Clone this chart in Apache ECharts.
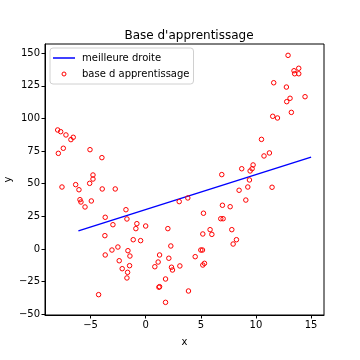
<!DOCTYPE html>
<html>
<head>
<meta charset="utf-8">
<script src="https://cdn.jsdelivr.net/npm/echarts@6/dist/echarts.min.js"></script>
<style>html,body{margin:0;padding:0;background:#fff}#c{width:360px;height:360px}</style>
</head>
<body>
<div id="c"></div>
<script>
const titleText = "Base d'apprentissage";
const lineName = "meilleure droite";
const scatterName = "base d apprentissage";
const xTicks = [-5, 0, 5, 10, 15];
const yTicks = [-50, -25, 0, 25, 50, 75, 100, 125, 150];
const lineX = [-6.1, 15.0];
const lineY = [13.9, 70.4];
const ptsX = [
 -7.98,-7.71,-7.23,-6.78,-6.57,-7.47,-7.92,-5.05,-3.97,-4.78,-4.78,-5.08,-6.35,-7.59,-6.05,-3.94,-2.76,
 -5.96,-5.87,-4.93,-5.50,-1.79,-3.67,-1.70,-2.97,-0.80,-0.89,0.00,2.01,3.04,-3.70,-1.13,-0.46,2.28,-2.52,-3.06,-1.61,-3.67,-1.43,1.26,2.10,-2.40,1.13,-1.46,0.83,2.34,2.43,3.10,-2.13,-1.64,-1.70,1.80,1.26,1.20,-4.27,1.80,
 10.50,11.22,10.73,9.74,9.65,9.47,8.71,6.90,9.41,9.26,11.46,8.47,9.08,3.82,6.96,7.66,5.24,6.81,7.02,
 5.84,7.81,5.18,6.00,8.23,7.93,5.00,5.15,4.49,5.33,5.18,3.88,
 12.91,13.88,13.45,13.51,13.88,11.61,12.76,13.09,12.79,14.45,13.21,11.52,11.95
];
const ptsY = [
 91.2,89.9,87.4,83.8,85.6,77.2,73.3,76.1,70.0,56.7,53.6,50.3,49.3,47.5,45.4,46.0,46.0,
 37.8,36.0,36.8,32.2,30.1,24.3,23.0,18.6,19.4,15.6,17.6,15.6,36.3,10.2,7.1,6.4,2.3,1.5,-0.8,-1.3,-4.6,-5.4,-4.6,-7.1,-9.0,-10.0,-12.8,-13.6,-14.0,-16.1,-13.0,-15.1,-17.9,-22.2,-23.0,-28.9,-29.3,-35.0,-40.9,
 84.0,73.6,71.3,64.4,61.5,59.8,61.5,57.0,52.9,47.5,47.3,45.0,37.5,39.1,33.5,32.4,27.4,23.2,23.2,
 14.8,14.8,11.5,11.2,7.1,3.8,-0.8,-0.8,-5.9,-11.0,-12.3,-32.2,
 148.4,138.5,136.6,134.3,134.3,127.4,124.1,115.5,112.9,116.7,104.7,101.7,100.4
];

const FONT = 'DejaVu Sans';
const fmt = v => String(v).replace('-', '\u2212');
const chart = echarts.init(document.getElementById('c'), null, {renderer: 'canvas'});
chart.setOption({
  animation: false,
  backgroundColor: '#fff',
  textStyle: {fontFamily: FONT},
  title: {
    text: titleText, left: 184, top: 25, textAlign: 'center',
    textStyle: {fontFamily: FONT, fontSize: 12, fontWeight: 'normal', color: '#000'}
  },
  grid: {left: 45, right: 36, top: 44, bottom: 45, containLabel: false, outerBoundsMode: 'none',
    show: true, borderColor: '#000', borderWidth: 1, backgroundColor: 'transparent'},
  legend: {
    orient: 'vertical', left: 50, top: 48,
    padding: [5, 4, 5, 3],
    itemWidth: 22, itemHeight: 4, itemGap: 6,
    borderColor: '#d0d0d0', borderWidth: 1, borderRadius: 3,
    backgroundColor: 'rgba(255,255,255,0.8)',
    textStyle: {fontFamily: FONT, fontSize: 10, color: '#000', padding: [0, 0, 0, 2]},
    data: [
      {name: lineName, icon: 'path://M0,0 L22,0 L22,1.5 L0,1.5 Z', itemStyle: {color: '#0000ff', borderWidth: 0}},
      {name: scatterName, icon: 'circle', itemStyle: {color: '#fff', borderColor: '#ff0000', borderWidth: 1}}
    ]
  },
  xAxis: {
    type: 'value', min: -9.13, max: 16.17,
    name: 'x', nameLocation: 'middle', nameGap: 22, nameMoveOverlap: false,
    nameTextStyle: {fontFamily: FONT, fontSize: 10, color: '#000'},
    splitLine: {show: false},
    axisLine: {show: true, onZero: false, lineStyle: {color: '#000'}},
    axisTick: {show: true, length: 3.5, lineStyle: {color: '#000'}, customValues: xTicks},
    axisLabel: {color: '#000', fontSize: 10, fontFamily: FONT, margin: 5, formatter: fmt, customValues: xTicks}
  },
  yAxis: {
    type: 'value', min: -50.6, max: 157.1,
    name: 'y', nameLocation: 'middle', nameGap: 37, nameRotate: 90, nameMoveOverlap: false,
    nameTextStyle: {fontFamily: FONT, fontSize: 10, color: '#000', verticalAlign: 'middle', align: 'center'},
    splitLine: {show: false},
    axisLine: {show: true, onZero: false, lineStyle: {color: '#000'}},
    axisTick: {show: true, length: 3.5, lineStyle: {color: '#000'}, customValues: yTicks},
    axisLabel: {color: '#000', fontSize: 10, fontFamily: FONT, margin: 5, formatter: fmt, customValues: yTicks}
  },
  series: [
    {
      name: lineName, type: 'line', symbol: 'none',
      data: lineX.map((x, i) => [x, lineY[i]]),
      lineStyle: {color: '#0000ff', width: 1.5},
      itemStyle: {color: '#0000ff'}, z: 2
    },
    {
      name: scatterName, type: 'scatter', symbol: 'circle', symbolSize: 4.5,
      data: ptsX.map((x, i) => [x, ptsY[i]]),
      itemStyle: {color: 'rgba(255,255,255,0)', borderColor: '#ff0000', borderWidth: 1, opacity: 1},
      z: 3
    }
  ]
});
</script>
</body>
</html>
